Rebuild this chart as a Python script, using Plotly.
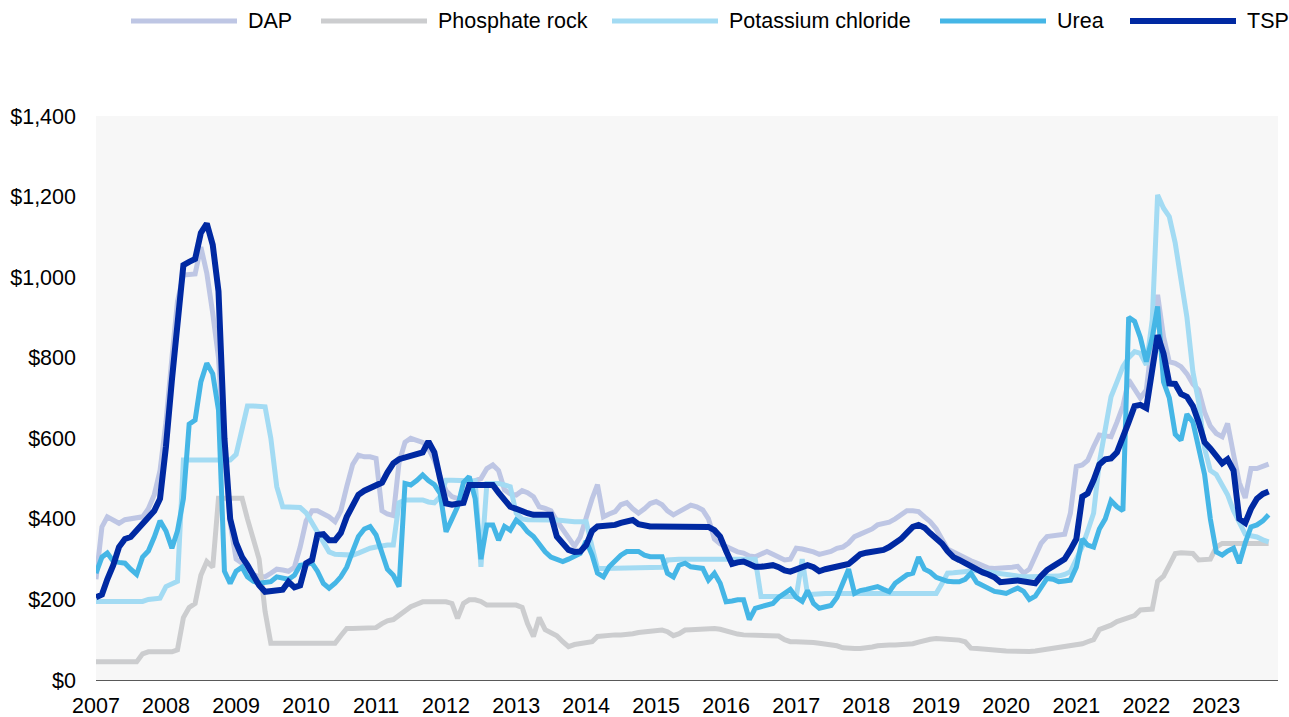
import pandas as pd
import plotly.graph_objects as go

# monthly prices, US$/mt, Jan 2007 - Oct 2023
dap = [250, 380, 405, 395, 389, 398, 401, 403, 405, 425, 460, 520,
       640, 800, 940, 1005, 1005, 1008, 1075, 1010, 910, 800, 560, 390,
       300, 290, 275, 262, 256, 256, 265, 275, 273, 270, 280, 330,
       395, 420, 420, 414, 405, 393, 420, 480, 535, 558, 554, 554,
       550, 420, 412, 408, 540, 590, 600, 595, 590, 575, 545, 505,
       470, 455, 450, 455, 480, 495, 500, 525, 534, 520, 472, 462,
       459, 470, 465, 455, 430, 426, 420, 395, 375, 355, 332, 355,
       405, 450, 485, 405, 412, 418, 435, 440, 425, 414, 425, 438,
       443, 435, 420, 410, 418, 425, 434, 430, 422, 400, 350, 338,
       331, 325, 318, 315, 308, 306, 312, 319, 312, 305, 298, 300,
       327, 325, 323, 318, 312, 316, 319, 327, 330, 340, 356, 362,
       368, 375, 385, 388, 392, 400, 410, 420, 420, 418, 405, 393,
       375, 350, 325, 318, 310, 305, 296, 290, 285, 278, 277, 277,
       277, 280, 282, 265, 275, 310, 339, 356, 358, 360, 362, 414,
       530, 534, 545, 579, 608, 606, 604, 640, 680, 745, 720, 700,
       720, 850, 956, 852, 790, 786, 778, 760, 735, 720, 665, 630,
       612, 604, 637, 560, 490, 452, 525, 525, 530, 536]

phosphate_rock = [45, 45, 45, 45, 45, 45, 45, 45, 65, 70, 70, 70,
                  70, 70, 75, 155, 180, 190, 260, 294, 280, 451, 451, 451,
                  451, 451, 400, 350, 300, 170, 91, 91, 91, 91, 91, 91,
                  91, 91, 91, 91, 91, 91, 110, 128, 128, 128, 128, 128,
                  130, 140, 147, 150, 160, 172, 182, 188, 194, 194, 194, 194,
                  194, 190, 153, 190, 199, 199, 195, 186, 186, 186, 186, 186,
                  186, 180, 140, 108, 155, 125, 118, 110, 95, 83, 88, 91,
                  91, 95, 108, 110, 112, 112, 112, 112, 115, 118, 120, 122,
                  122, 124, 120, 110, 115, 124, 125, 126, 127, 128, 128, 126,
                  122, 116, 114, 112, 112, 111, 110, 110, 110, 109, 100, 95,
                  95, 95, 94, 93, 91, 90, 88, 85, 80, 78, 78, 78,
                  79, 82, 85, 87, 87, 87, 87, 87, 90, 94, 99, 101,
                  103, 102, 100, 99, 99, 95, 79, 78, 76, 75, 74, 73,
                  72, 71, 70, 70, 71, 72, 74, 76, 79, 80, 82, 85,
                  87, 90, 95, 100, 125, 130, 136, 145, 150, 153, 160, 174,
                  174, 176, 245, 258, 285, 314, 316, 316, 314, 298, 298, 300,
                  330, 339, 339, 339, 339, 339, 339, 339, 339, 339]

potassium_chloride = [195, 195, 195, 195, 195, 195, 195, 195, 195, 200, 203, 203,
                      232, 238, 245, 546, 546, 546, 546, 546, 546, 546, 546, 546,
                      560, 620, 680, 680, 680, 678, 600, 480, 430, 430, 430, 428,
                      415, 390, 370, 345, 318, 312, 311, 310, 310, 315, 322, 327,
                      330, 333, 335, 335, 440, 447, 447, 447, 447, 442, 440, 455,
                      496, 496, 496, 496, 496, 494, 281, 488, 488, 488, 484, 480,
                      414, 400, 398, 397, 397, 397, 397, 397, 395, 393, 393, 393,
                      393, 330, 277, 277, 277, 277, 277, 277, 277, 277, 277, 277,
                      277, 280, 298, 300, 300, 300, 300, 300, 300, 300, 300, 300,
                      300, 300, 300, 300, 300, 300, 207, 207, 207, 207, 207, 207,
                      207, 300, 212, 213, 215, 215, 215, 215, 215, 215, 215, 215,
                      215, 215, 215, 215, 215, 215, 215, 215, 215, 215, 215, 215,
                      215, 240, 265, 266, 268, 270, 272, 272, 270, 268, 265, 262,
                      261, 258, 256, 256, 256, 256, 256, 256, 256, 258, 262, 269,
                      300, 331, 370, 414, 540, 630, 703, 740, 778, 800, 815, 811,
                      782, 894, 1204, 1171, 1150, 1084, 985, 900, 765, 690, 575, 520,
                      510, 485, 460, 420, 389, 362, 358, 355, 348, 343]

urea = [265, 305, 315, 295, 292, 290, 275, 262, 305, 320, 355, 395,
        370, 327, 370, 450, 635, 645, 740, 786, 760, 670, 270, 240,
        270, 280, 256, 245, 240, 242, 244, 256, 252, 250, 260, 285,
        287, 290, 270, 240, 228, 240, 256, 280, 320, 356, 375, 381,
        360, 314, 275, 260, 232, 488, 484, 495, 509, 495, 485, 463,
        368, 400, 430, 490, 505, 450, 300, 385, 385, 347, 381, 372,
        397, 385, 368, 356, 335, 318, 305, 300, 294, 300, 306, 314,
        345, 310, 265, 256, 281, 298, 310, 319, 319, 319, 310, 306,
        306, 306, 265, 256, 285, 290, 281, 279, 277, 248, 265, 240,
        194, 196, 199, 199, 150, 178, 182, 186, 190, 205, 215, 225,
        205, 195, 222, 190, 178, 182, 185, 205, 240, 275, 215, 222,
        225, 230, 232, 225, 219, 240, 250, 261, 265, 305, 275, 268,
        255, 248, 245, 244, 244, 250, 265, 242, 235, 225, 220, 218,
        215, 222, 228, 220, 200, 208, 230, 252, 250, 244, 246, 248,
        280, 350, 335, 330, 375, 400, 445, 430, 420, 900, 890, 850,
        790, 850, 927, 740, 700, 610, 595, 660, 640, 580, 510, 400,
        318, 310, 320, 327, 290, 340, 380, 385, 395, 410]

tsp = [205, 212, 250, 285, 330, 350, 355, 372, 390, 405, 420, 450,
       580, 745, 900, 1030, 1038, 1045, 1110, 1133, 1080, 965, 600, 400,
       340, 305, 285, 262, 235, 219, 221, 222, 224, 244, 230, 235,
       290, 298, 360, 362, 347, 347, 365, 405, 432, 460, 470, 476,
       482, 490, 515, 538, 548, 552, 555, 558, 565, 592, 565, 500,
       438, 435, 437, 440, 484, 484, 484, 484, 484, 465, 447, 430,
       425, 418, 414, 410, 410, 410, 410, 356, 340, 323, 318, 319,
       335, 370, 381, 382, 384, 385, 390, 393, 397, 387, 382, 381,
       381, 381, 380, 381, 381, 380, 380, 379, 379, 380, 372, 356,
       320, 288, 292, 294, 288, 281, 281, 284, 285, 280, 272, 269,
       275, 282, 285, 280, 270, 275, 278, 281, 284, 288, 300, 312,
       316, 319, 321, 323, 330, 340, 350, 365, 380, 385, 378, 364,
       352, 338, 320, 305, 298, 290, 282, 273, 267, 262, 255, 243,
       243, 246, 247, 245, 242, 240, 258, 273, 282, 290, 300, 323,
       350, 455, 463, 496, 535, 548, 550, 565, 600, 640, 680, 683,
       675, 760, 856, 810, 736, 735, 710, 703, 680, 640, 590, 575,
       558, 538, 548, 520, 400, 390, 425, 450, 462, 468]

months = pd.date_range("2007-01-01", periods=len(tsp), freq="MS")

series = [("DAP", dap, "#BEC6E4", 5),
          ("Phosphate rock", phosphate_rock, "#CCCDCF", 5),
          ("Potassium chloride", potassium_chloride, "#A3DBF3", 5),
          ("Urea", urea, "#45B6E6", 5),
          ("TSP", tsp, "#0029A2", 6)]

fnt = "Arial, Liberation Sans, sans-serif"

fig = go.Figure()
for name, vals, col, w in series:
    fig.add_trace(go.Scatter(x=months, y=vals, name=name, mode="lines",
                             line=dict(color=col, width=w), showlegend=False))

# hand-made legend above the plot (long line samples)
leg_x = [131, 321, 612, 940, 1130]
shapes = []
annots = []
for (name, vals, col, w), px in zip(series, leg_x):
    shapes.append(dict(type="line", xref="paper", yref="paper",
                       x0=(px - 96) / 1182, x1=(px + 106 - 96) / 1182,
                       y0=1.1684, y1=1.1684,
                       line=dict(color=col, width=w)))
    annots.append(dict(text=name, xref="paper", yref="paper",
                       x=(px + 115 - 96) / 1182, y=1.1684,
                       xanchor="left", yanchor="middle", showarrow=False,
                       font=dict(family=fnt, size=21.5, color="#000000")))

fig.update_layout(
    width=1289, height=717,
    margin=dict(l=96, r=11, t=116, b=37),
    paper_bgcolor="white", plot_bgcolor="#F7F7F7",
    font=dict(family=fnt, size=21.5, color="#000000"),
    shapes=shapes, annotations=annots,
    xaxis=dict(type="date", range=["2007-01-01", "2023-11-19"],
               tick0="2007-01-01", dtick="M12", tickformat="%Y",
               showgrid=False, zeroline=False, showline=True,
               linecolor="#595959", linewidth=1, ticks="",
               ticklabelstandoff=6, automargin=False),
    yaxis=dict(range=[0, 1400], dtick=200, tickprefix="$", tickformat=",",
               showgrid=False, zeroline=False, showline=False, ticks="",
               ticklabelstandoff=19, automargin=False),
)

fig.write_html("out.html", config={"displayModeBar": False},
               post_script="document.body.style.margin='0';"
                           "document.body.style.overflow='hidden';")
